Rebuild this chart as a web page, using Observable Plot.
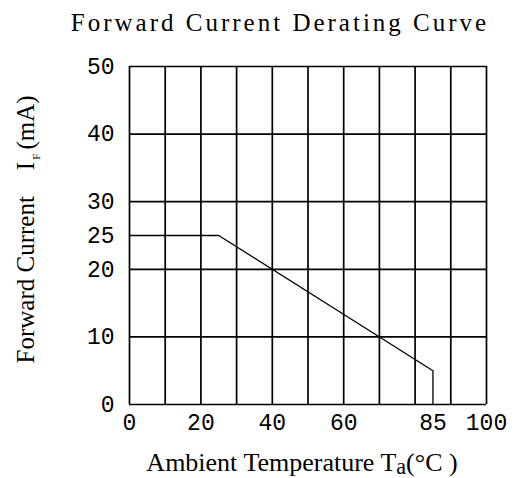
<!DOCTYPE html>
<html>
<head>
<meta charset="utf-8">
<script src="https://cdn.jsdelivr.net/npm/d3@7"></script>
<script src="https://cdn.jsdelivr.net/npm/@observablehq/plot@0.6"></script>
<style>
  html, body { margin: 0; padding: 0; background: #fff; }
</style>
</head>
<body>
<div id="chart"></div>
<script>
// ---- data ----
const curveTemp = [0, 25, 85, 85];          // °C
const curveCurrent = [25, 25, 5, 0];        // mA
const xGrid = [0, 10, 20, 30, 40, 50, 60, 70, 80, 90, 100];
const yGrid = [0, 10, 20, 30, 40, 50];
const xTickLabels = [0, 20, 40, 60, 85, 100];
const yTickLabels = [0, 10, 20, 25, 30, 40, 50];
const titleText = "Forward Current Derating Curve";
const xLabelText = "Ambient Temperature Ta(°C )";
const yLabelText = "Forward Current IF (mA)";

const curve = curveTemp.map((t, i) => ({t, c: curveCurrent[i]}));

const serif = "'Liberation Serif', 'Times New Roman', serif";
const mono = "'Liberation Mono', 'Courier New', monospace";

const plot = Plot.plot({
  width: 518,
  height: 478,
  marginTop: 66,
  marginBottom: 74,
  marginLeft: 129,
  marginRight: 32,
  x: {domain: [0, 100], axis: null},
  y: {domain: [0, 50], axis: null},
  style: {background: "#fff", color: "#000"},
  marks: [
    Plot.ruleX(xGrid, {x: d => d, stroke: "#000", strokeWidth: 1.7}),
    Plot.ruleY(yGrid, {y: d => d, stroke: "#000", strokeWidth: 1.7}),
    Plot.line(curve, {x: "t", y: "c", stroke: "#000", strokeWidth: 1.3}),
    Plot.text(xTickLabels, {x: d => d, text: d => String(d), frameAnchor: "bottom",
      lineAnchor: "top", dy: 9, fontSize: 23, fontFamily: mono, fill: "#000"}),
    Plot.text(yTickLabels, {y: d => d, text: d => String(d), frameAnchor: "left",
      textAnchor: "end", lineAnchor: "middle", dx: -15, fontSize: 23, fontFamily: mono, fill: "#000"}),
    Plot.text([titleText], {text: d => d, frameAnchor: "top", lineAnchor: "middle",
      textAnchor: "middle", dy: -44, dx: -28, fontSize: 25, fontFamily: serif, fill: "#000"}),
    Plot.text([xLabelText], {text: d => d, frameAnchor: "bottom", lineAnchor: "middle",
      textAnchor: "middle", dy: 58, dx: -6, fontSize: 26, fontFamily: serif, fill: "#000"}),
    Plot.text([yLabelText], {text: d => d, frameAnchor: "left", lineAnchor: "middle",
      textAnchor: "start", dx: -104, dy: 128, rotate: -90, fontSize: 25, fontFamily: serif, fill: "#000"})
  ]
});

// subscripts and spacing
d3.select(plot).selectAll("text").each(function() {
  const el = d3.select(this);
  const s = el.text();
  if (s === xLabelText) {
    el.text(null);
    el.append("tspan").text("Ambient Temperature T");
    el.append("tspan").attr("baseline-shift", "-3").attr("font-size", "0.85em").text("a");
    el.append("tspan").text("(°C )");
  } else if (s === yLabelText) {
    el.text(null);
    el.append("tspan").text("Forward Current");
    el.append("tspan").attr("dx", 26).text("I");
    el.append("tspan").attr("baseline-shift", "-6").attr("font-size", "0.45em").attr("dx", 2).text("F");
    el.append("tspan").attr("dx", 4).text("(mA)");
  } else if (s === titleText) {
    el.attr("letter-spacing", "3");
  }
});

document.getElementById("chart").appendChild(plot);
</script>
</body>
</html>
